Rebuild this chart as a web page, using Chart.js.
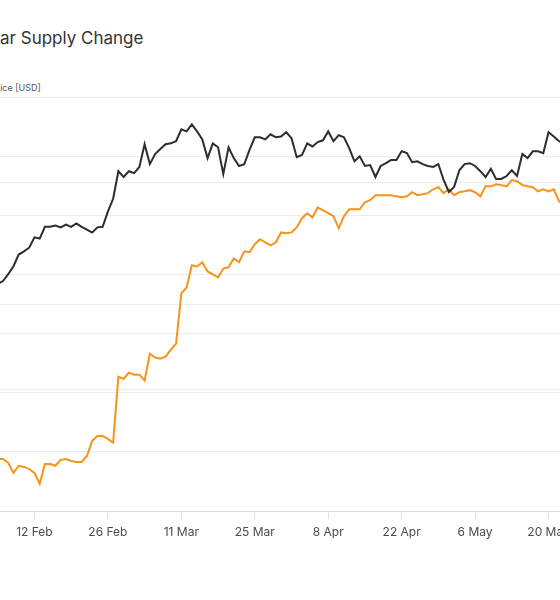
<!DOCTYPE html>
<html>
<head>
<meta charset="utf-8">
<script src="https://cdn.jsdelivr.net/npm/chart.js@4/dist/chart.umd.min.js"></script>
<style>
  html, body { margin: 0; padding: 0; background: #ffffff; }
  #wrap { position: relative; width: 560px; height: 600px; overflow: hidden; background: #ffffff; }
  #title { position: absolute; top: 27px; white-space: nowrap; font: 400 17px Inter, "Noto Sans", sans-serif; line-height: 22px; color: #333333; }
  #sub { position: absolute; top: 81px; white-space: nowrap; font: 400 9px Inter, "Noto Sans", sans-serif; line-height: 14px; color: #555555; }
  #box { position: absolute; left: -99px; top: 0; width: 760px; height: 600px; }
</style>
</head>
<body>
<div id="wrap">
  <div id="title">Stablecoin: US Dollar Supply Change</div>
  <div id="sub">Price [USD]</div>
  <div id="box"><canvas id="c" width="760" height="600"></canvas></div>
</div>
<script>
// ---- data (daily, starting 2024-02-05) ----
const firstDate = '2024-02-05';
const btcPrice = [
  42800, 43200, 44200, 45400, 47200, 47700, 48300,
  50000, 49800, 51800, 51800, 52000, 51700, 52200, 51800, 52400, 51800, 51300, 50800, 51700, 51800,
  54500, 56900, 62400, 61200, 62400, 62000, 63300, 68300, 63900, 66100, 67200, 68300, 68500, 69000,
  71800, 71300, 73000, 71300, 69400, 65200, 68500, 67600, 61800, 67600, 65200, 63500, 63900, 67000,
  69900, 69900, 69400, 70600, 69900, 70100, 71100, 69700, 65400, 65900, 68500, 67800, 68800, 69200,
  71300, 69000, 70400, 69900, 67400, 64500, 65600, 63500, 63700, 61200, 63500, 64100, 64800, 64800,
  66700, 66300, 64300, 64500, 63900, 63500, 63300, 63900, 60600, 58200, 59200, 62600, 63900, 64100,
  63500, 62400, 61200, 62900, 60800, 60800, 61400, 62600, 61400, 66100, 65200, 66700, 66700, 66300,
  71100, 70100, 69000, 68500
];
const supplyChange = [
  1.76, 1.76, 1.63, 1.29, 1.53, 1.49, 1.42,
  1.29, 0.92, 1.59, 1.59, 1.53, 1.73, 1.76, 1.69, 1.66, 1.66, 1.86, 2.37, 2.54, 2.54,
  2.44, 2.31, 4.54, 4.47, 4.68, 4.61, 4.61, 4.41, 5.32, 5.19, 5.15, 5.22, 5.46, 5.66,
  7.36, 7.56, 8.31, 8.27, 8.41, 8.10, 8.00, 7.90, 8.20, 8.24, 8.54, 8.41, 8.78, 8.75,
  9.02, 9.19, 9.08, 8.98, 9.08, 9.42, 9.39, 9.42, 9.59, 9.90, 10.07, 9.93, 10.27, 10.17,
  10.07, 9.97, 9.56, 9.97, 10.20, 10.20, 10.20, 10.44, 10.51, 10.68, 10.68, 10.68, 10.68, 10.64,
  10.61, 10.64, 10.78, 10.68, 10.71, 10.75, 10.88, 10.95, 10.75, 10.88, 10.68, 10.78, 10.81, 10.85,
  10.78, 10.64, 10.98, 10.98, 11.05, 11.02, 10.98, 11.19, 11.15, 11.02, 10.98, 10.95, 10.81, 10.88,
  10.81, 10.88, 10.47, 10.37
];
const tickDates  = ['2024-02-12', '2024-02-26', '2024-03-11', '2024-03-25', '2024-04-08', '2024-04-22', '2024-05-06', '2024-05-20'];
const tickLabels = ['12 Feb', '26 Feb', '11 Mar', '25 Mar', '8 Apr', '22 Apr', '6 May', '20 May'];
const priceTicks = [20000, 30000, 40000, 60000, 80000];
const supplyTicks = [0, 2, 4, 6, 8, 10, 12, 14];
const axisStart = '2024-01-29';
const axisEnd = '2024-05-30';

// ---- helpers ----
const DAY = 86400000;
const REF = Date.UTC(2024, 1, 12);
function toUTC(s) { const p = s.split('-').map(Number); return Date.UTC(p[0], p[1] - 1, p[2]); }
function dayNum(s) { return Math.round((toUTC(s) - REF) / DAY); }
const dates = btcPrice.map((_, i) => new Date(toUTC(firstDate) + i * DAY).toISOString().slice(0, 10));

// ---- header text placement (title is cropped at the left edge like the reference) ----
function prefixWidth(full, visible, font) {
  const g = document.createElement('canvas').getContext('2d');
  g.font = font;
  return g.measureText(full.slice(0, full.lastIndexOf(visible))).width;
}
const titleEl = document.getElementById('title');
titleEl.style.left = (0 - prefixWidth(titleEl.textContent, 'ar Supply Change', '400 17px Inter')) + 'px';
const subEl = document.getElementById('sub');
subEl.style.left = (0 - prefixWidth(subEl.textContent, 'ice [USD]', '400 9px Inter')) + 'px';

// ---- chart ----
const GRID = '#ececec';
new Chart(document.getElementById('c'), {
  type: 'line',
  data: {
    datasets: [
      {
        label: 'Price [USD]',
        data: dates.map((d, i) => ({ x: dayNum(d), y: btcPrice[i] })),
        yAxisID: 'yPrice',
        borderColor: '#2d2d2d',
        borderWidth: 2,
        pointRadius: 0,
        tension: 0
      },
      {
        label: 'Supply Change',
        data: dates.map((d, i) => ({ x: dayNum(d), y: supplyChange[i] })),
        yAxisID: 'ySupply',
        borderColor: '#f7931a',
        borderWidth: 2,
        pointRadius: 0,
        tension: 0
      }
    ]
  },
  options: {
    responsive: false,
    animation: false,
    layout: { padding: { top: 97, left: 0, right: 0, bottom: 0 } },
    plugins: { legend: { display: false }, tooltip: { enabled: false }, title: { display: false } },
    scales: {
      x: {
        type: 'linear',
        min: dayNum(axisStart),
        max: dayNum(axisEnd),
        afterBuildTicks: (s) => { s.ticks = tickDates.map(d => ({ value: dayNum(d) })); },
        afterFit: (s) => { s.height = 89; },
        grid: { drawOnChartArea: false, drawTicks: true, tickLength: 8, color: '#e2e2e2' },
        border: { display: true, color: '#dadada', width: 1 },
        ticks: {
          autoSkip: false, maxRotation: 0, padding: 6, color: '#4a4a4a',
          font: { family: 'Inter', size: 12 },
          callback: (v) => { const i = tickDates.findIndex(d => dayNum(d) === v); return i >= 0 ? tickLabels[i] : ''; }
        }
      },
      yPrice: {
        type: 'logarithmic',
        position: 'left',
        min: priceTicks[0],
        max: priceTicks[priceTicks.length - 1],
        afterBuildTicks: (s) => { s.ticks = priceTicks.map(v => ({ value: v })); },
        afterFit: (s) => { s.width = 60; },
        grid: { color: GRID, drawTicks: false },
        border: { display: false },
        ticks: { color: '#4a4a4a', font: { family: 'Inter', size: 11 }, callback: (v) => (v / 1000) + 'K' }
      },
      ySupply: {
        type: 'linear',
        position: 'right',
        min: supplyTicks[0],
        max: supplyTicks[supplyTicks.length - 1],
        afterBuildTicks: (s) => { s.ticks = supplyTicks.map(v => ({ value: v })); },
        afterFit: (s) => { s.width = 60; },
        grid: { color: GRID, drawTicks: false },
        border: { display: false },
        ticks: { color: '#4a4a4a', font: { family: 'Inter', size: 11 }, callback: (v) => v + 'B' }
      }
    }
  }
});
</script>
</body>
</html>
